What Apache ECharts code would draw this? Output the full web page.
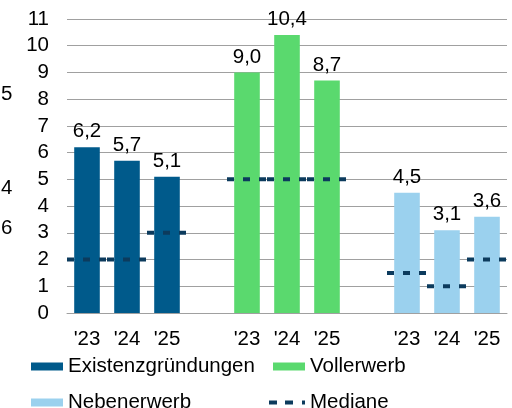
<!DOCTYPE html>
<html>
<head>
<meta charset="utf-8">
<script src="https://cdn.jsdelivr.net/npm/echarts@6/dist/echarts.min.js"></script>
<style>
html,body{margin:0;padding:0;background:#fff;}
#chart{width:512px;height:408px;}
</style>
</head>
<body>
<div id="chart"></div>
<script>
var years = ["'23", "'24", "'25"];
var existenz = [6.2, 5.7, 5.1];
var vollerwerb = [9.0, 10.4, 8.7];
var nebenerwerb = [4.5, 3.1, 3.6];
var medExistenz = [2, 2, 3];
var medVoll = [5, 5, 5];
var medNeben = [1.5, 1, 2];
var yTicks = [0, 11, 1];

// 3 Gruppen mit je einer leeren Spalte dazwischen
var categories = years.concat([''], years, [''], years);

function slot(vals, group) {
	var out = [];
	for (var i = 0; i < categories.length; i++) out.push(null);
	for (var j = 0; j < vals.length; j++) out[group * 4 + j] = vals[j];
	return out;
}

var medData = [];
[medExistenz, medVoll, medNeben].forEach(function (m, g) {
	m.forEach(function (v, j) { medData.push([g * 4 + j, v]); });
});

var fontFam = '"Liberation Sans", Arial, sans-serif';
var fs = 20.5;
var medColor = '#0c3b5d';

function barSeries(name, vals, group, color) {
	return {
		name: name,
		type: 'bar',
		stack: 'all',
		barWidth: '64%',
		data: slot(vals, group),
		itemStyle: { color: color },
		label: {
			show: true,
			position: 'top',
			distance: 5,
			color: '#000',
			fontSize: fs,
			fontFamily: fontFam,
			formatter: function (p) { return p.value.toFixed(1).replace('.', ','); }
		}
	};
}

function legendItem(name, left, top, icon, w, h) {
	var d = { name: name, icon: icon };
	if (name == 'Mediane') d.itemStyle = { color: medColor };
	return {
		left: left,
		top: top,
		itemWidth: w,
		itemHeight: h,
		padding: 0,
		textStyle: { fontSize: fs, color: '#000', fontFamily: fontFam },
		data: [d]
	};
}

var myChart = echarts.init(document.getElementById('chart'));
var option = {
	animation: false,
	textStyle: { fontFamily: fontFam },
	grid: { left: 67, right: 5, top: 19, bottom: 95 },
	legend: [
		legendItem('Existenzgründungen', 31, 356, 'rect', 32, 8),
		legendItem('Vollerwerb', 273, 356, 'rect', 32, 8),
		legendItem('Nebenerwerb', 31, 392, 'rect', 32, 8),
		legendItem('Mediane', 269, 392, 'path://M0,2h8v4h-8z M16,2h8v4h-8z M33,2h3v4h-3z M0,0h0.01v8h-0.01z', 36, 8)
	],
	xAxis: {
		type: 'category',
		data: categories,
		axisLine: { show: true, lineStyle: { color: '#a0a0a0', width: 1 } },
		axisTick: { show: false },
		axisLabel: { color: '#000', fontSize: fs, margin: 16, interval: 0 }
	},
	yAxis: {
		type: 'value',
		min: yTicks[0],
		max: yTicks[1],
		interval: yTicks[2],
		axisLine: { show: false },
		axisTick: { show: false },
		axisLabel: { color: '#000', fontSize: fs, margin: 18 },
		splitLine: { lineStyle: { color: '#a0a0a0', width: 1 } }
	},
	series: [
		barSeries('Existenzgründungen', existenz, 0, '#005a8b'),
		barSeries('Vollerwerb', vollerwerb, 1, '#5ad96e'),
		barSeries('Nebenerwerb', nebenerwerb, 2, '#9bd1ee'),
		{
			name: 'Mediane',
			type: 'custom',
			z: 5,
			itemStyle: { color: medColor },
			data: medData,
			renderItem: function (params, api) {
				var p = api.coord([api.value(0), api.value(1)]);
				var w = api.size([1, 0])[0];
				return {
					type: 'line',
					shape: { x1: p[0] - w / 2, y1: p[1], x2: p[0] + w / 2, y2: p[1] },
					style: { stroke: medColor, lineWidth: 4, lineDash: [7, 9] }
				};
			}
		}
	],
	graphic: [
		{ type: 'text', left: 1, top: 84, style: { text: '5', fontSize: fs, fill: '#000', fontFamily: fontFam } },
		{ type: 'text', left: 1, top: 178, style: { text: '4', fontSize: fs, fill: '#000', fontFamily: fontFam } },
		{ type: 'text', left: 1, top: 218, style: { text: '6', fontSize: fs, fill: '#000', fontFamily: fontFam } }
	]
};
myChart.setOption(option);
</script>
</body>
</html>
